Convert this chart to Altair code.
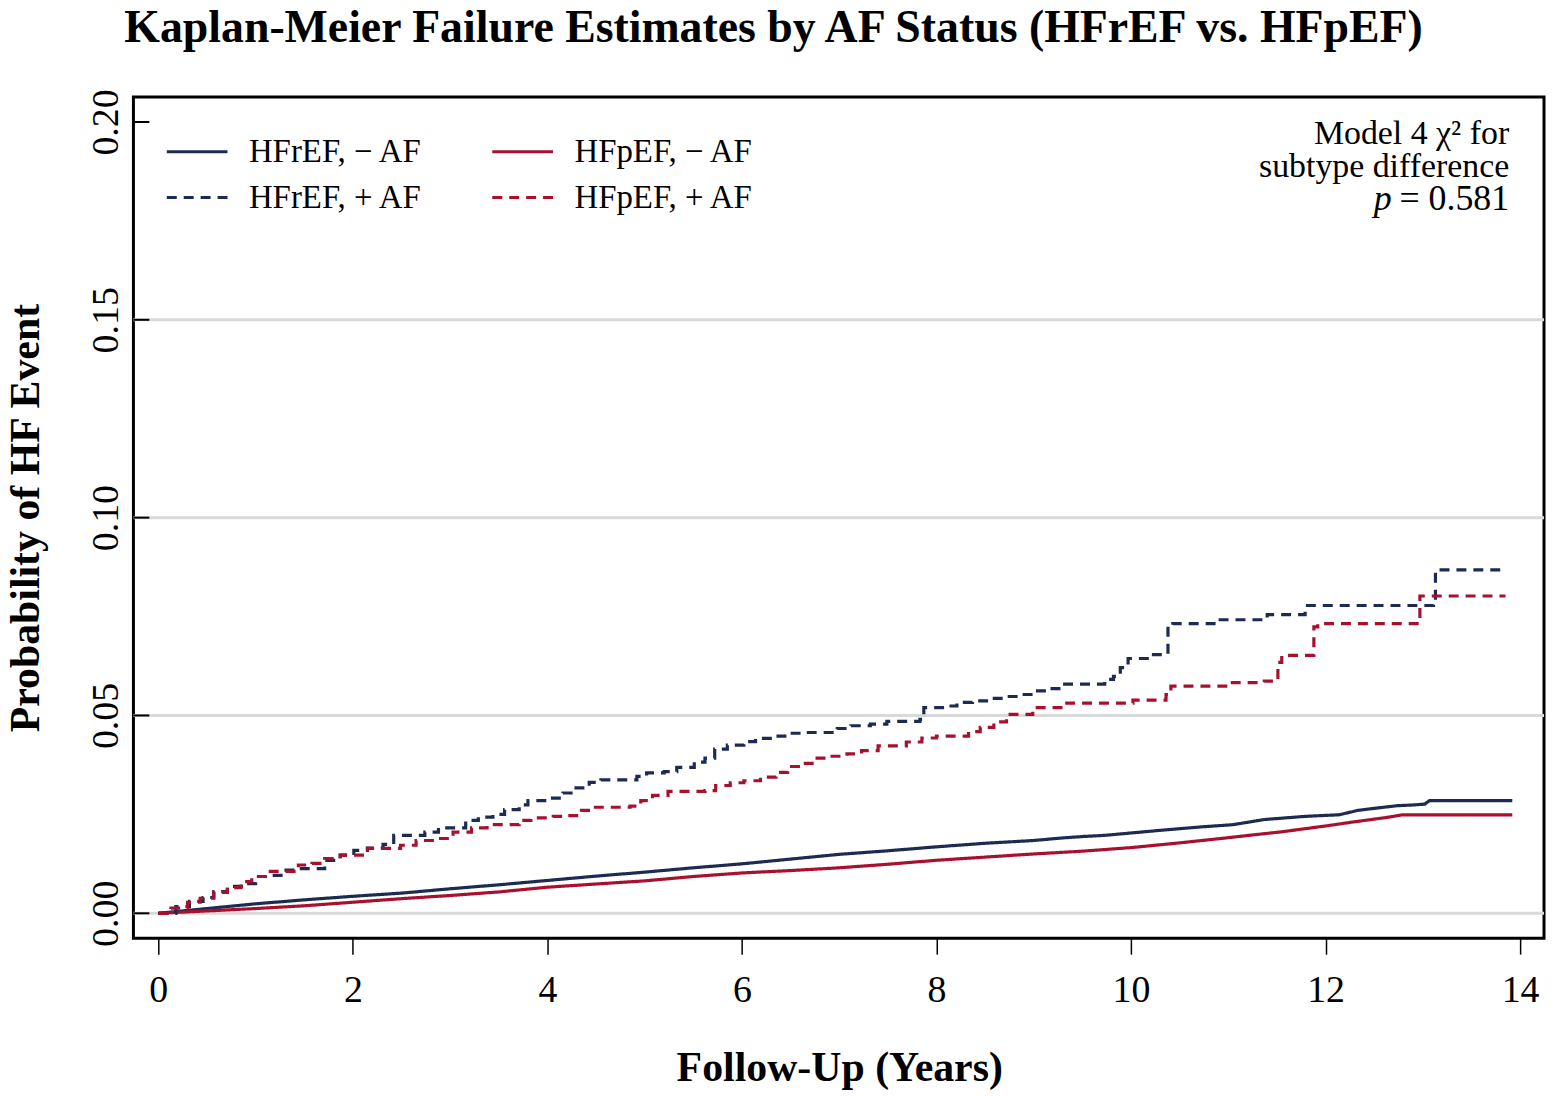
import altair as alt
import pandas as pd

FONT = "Liberation Serif"

# ---------------- data ----------------
series_order = ["HFrEF, − AF", "HFrEF, + AF", "HFpEF, − AF", "HFpEF, + AF"]
series_colors = ["#1d2b53", "#1d2b53", "#a8102e", "#a8102e"]
series_dashes = [[1, 0], [10, 7], [1, 0], [10, 7]]
dashed_series = ["HFrEF, + AF", "HFpEF, + AF"]   # drawn as step functions

hfref_noaf_t = [0, 0.5, 1.0, 1.5, 2.0, 2.5, 3.0, 3.5, 4.0, 4.5, 5.0, 5.5, 6.0, 6.5, 7.0,
                7.5, 8.0, 8.5, 9.0, 9.27, 9.5, 9.73, 10.0, 10.36, 10.7, 11.05, 11.37,
                11.79, 12.14, 12.33, 12.56, 12.74, 12.92, 13.02, 13.07, 13.92]
hfref_noaf_p = [0, 0.0012, 0.0024, 0.0034, 0.0043, 0.0051, 0.0062, 0.0072, 0.0083, 0.0094,
                0.0104, 0.0115, 0.0125, 0.0137, 0.0149, 0.0158, 0.0168, 0.0177, 0.0184,
                0.0190, 0.0194, 0.0197, 0.0203, 0.0211, 0.0218, 0.0224, 0.0237, 0.0245,
                0.0249, 0.0260, 0.0267, 0.0272, 0.0274, 0.0276, 0.0285, 0.0285]

hfpef_noaf_t = [0, 0.5, 1.0, 1.5, 2.0, 2.5, 3.0, 3.5, 4.0, 4.5, 5.0, 5.5, 6.0, 6.5, 7.0,
                7.5, 8.0, 8.5, 9.0, 9.5, 10.0, 10.5, 10.96, 11.25, 11.55, 12.01, 12.29,
                12.65, 12.79, 13.92]
hfpef_noaf_p = [0, 0.0006, 0.0012, 0.0019, 0.0028, 0.0037, 0.0045, 0.0054, 0.0066, 0.0074,
                0.0082, 0.0093, 0.0102, 0.0108, 0.0115, 0.0124, 0.0134, 0.0142, 0.0150,
                0.0157, 0.0166, 0.0178, 0.0190, 0.0198, 0.0206, 0.0221, 0.0231, 0.0243,
                0.0249, 0.0249]

hfref_af_t = [0, 0.18, 0.32, 0.46, 0.57, 0.71, 0.87, 1.00, 1.14, 1.28, 1.44, 1.71, 1.87,
              2.01, 2.15, 2.31, 2.42, 2.74, 2.88, 3.16, 3.29, 3.44, 3.56, 3.71, 3.80, 4.00,
              4.16, 4.26, 4.43, 4.55, 4.92, 5.02, 5.20, 5.33, 5.51, 5.62, 5.72, 5.85, 6.02,
              6.14, 6.35, 6.47, 6.62, 6.98, 7.12, 7.32, 7.49, 7.83, 7.87, 8.08, 8.21, 8.37,
              8.54, 8.70, 8.86, 9.02, 9.17, 9.29, 9.73, 9.82, 9.89, 9.97, 10.20, 10.38,
              10.43, 10.87, 11.40, 11.79, 13.11, 13.13, 13.84]
hfref_af_p = [0, 0.0017, 0.0030, 0.0040, 0.0055, 0.0068, 0.0075, 0.0093, 0.0096, 0.0109,
              0.0113, 0.0134, 0.0147, 0.0159, 0.0165, 0.0174, 0.0197, 0.0205, 0.0216,
              0.0235, 0.0243, 0.0250, 0.0262, 0.0274, 0.0285, 0.0291, 0.0304, 0.0317,
              0.0331, 0.0337, 0.0346, 0.0355, 0.0358, 0.0369, 0.0382, 0.0392, 0.0415,
              0.0425, 0.0434, 0.0442, 0.0448, 0.0455, 0.0457, 0.0467, 0.0474, 0.0478,
              0.0485, 0.0490, 0.0520, 0.0524, 0.0533, 0.0537, 0.0543, 0.0548, 0.0553,
              0.0562, 0.0568, 0.0579, 0.0591, 0.0599, 0.0621, 0.0644, 0.0654, 0.0720,
              0.0732, 0.0742, 0.0755, 0.0778, 0.0788, 0.0868, 0.0868]

hfpef_af_t = [0, 0.13, 0.30, 0.43, 0.57, 0.71, 0.85, 0.96, 1.10, 1.44, 1.58, 1.71, 1.87,
              2.15, 2.49, 2.65, 2.84, 3.03, 3.22, 3.38, 3.71, 3.83, 4.06, 4.20, 4.35, 4.47,
              4.85, 4.96, 5.08, 5.24, 5.62, 5.73, 5.88, 6.02, 6.19, 6.35, 6.47, 6.62, 6.74,
              6.87, 7.08, 7.23, 7.40, 7.69, 7.85, 8.00, 8.33, 8.45, 8.59, 8.72, 8.99, 9.34,
              10.02, 10.36, 10.41, 11.00, 11.37, 11.51, 11.55, 11.88, 11.92, 12.97, 13.85]
hfpef_af_p = [0, 0.0013, 0.0028, 0.0038, 0.0053, 0.0065, 0.0080, 0.0093, 0.0106, 0.0122,
              0.0126, 0.0138, 0.0147, 0.0164, 0.0172, 0.0184, 0.0189, 0.0205, 0.0216,
              0.0224, 0.0235, 0.0241, 0.0245, 0.0247, 0.0260, 0.0268, 0.0271, 0.0285,
              0.0298, 0.0308, 0.0310, 0.0323, 0.0330, 0.0335, 0.0344, 0.0356, 0.0371,
              0.0379, 0.0392, 0.0397, 0.0403, 0.0411, 0.0423, 0.0433, 0.0443, 0.0448,
              0.0459, 0.0470, 0.0484, 0.0503, 0.0520, 0.0531, 0.0539, 0.0553, 0.0574,
              0.0583, 0.0587, 0.0634, 0.0652, 0.0724, 0.0732, 0.0802, 0.0802]

x_ticks = [0, 2, 4, 6, 8, 10, 12, 14]
y_ticks = [0.00, 0.05, 0.10, 0.15, 0.20]
y_grid = [0.00, 0.05, 0.10, 0.15]

title_text = "Kaplan-Meier Failure Estimates by AF Status (HFrEF vs. HFpEF)"
x_title = "Follow-Up (Years)"
y_title = "Probability of HF Event"
annot_lines = ["Model 4 χ² for", "subtype difference", "= 0.581"]
annot_p = "p"

# ---------------- table ----------------
# dashed (AF) curves are Kaplan-Meier step functions: each change point gives a
# horizontal run at the previous level followed by a vertical jump.
rows = []
for name, ts, ps in [("HFrEF, − AF", hfref_noaf_t, hfref_noaf_p),
                     ("HFpEF, − AF", hfpef_noaf_t, hfpef_noaf_p),
                     ("HFrEF, + AF", hfref_af_t, hfref_af_p),
                     ("HFpEF, + AF", hfpef_af_t, hfpef_af_p)]:
    i = 0
    prev = None
    for t, p in zip(ts, ps):
        if name in dashed_series and prev is not None:
            rows.append({"series": name, "t": t, "p": prev, "i": i})
            i += 1
        rows.append({"series": name, "t": t, "p": p, "i": i})
        i += 1
        prev = p
df = pd.DataFrame(rows)

W, H = 1417, 845
xscale = alt.Scale(domain=[-0.256, 14.246], nice=False, zero=False)
yscale = alt.Scale(domain=[-0.0063, 0.2063], nice=False, zero=False)

# legend symbol: a horizontal stroke twice as long as the symbol box
legend = alt.Legend(
    orient="none", legendX=47, legendY=38, columns=2, title=None,
    symbolType="M-2,0H2", symbolSize=930, symbolStrokeWidth=3,
    labelFont=FONT, labelFontSize=33, labelColor="black", labelOffset=35,
    labelLimit=0, columnPadding=63, rowPadding=12, padding=0,
)

x_axis = alt.Axis(
    values=x_ticks, format="d", domain=False, grid=False,
    ticks=True, tickSize=16, tickWidth=1.5, tickColor="black",
    labelFont=FONT, labelFontSize=38, labelColor="black", labelPadding=48,
    labelBaseline="alphabetic", labelFlush=False,
    title=x_title, titleFont=FONT, titleFontSize=42, titleFontWeight="bold",
    titleColor="black", titleX=709, titleY=143, titleBaseline="alphabetic",
    titleAlign="center")
y_axis = alt.Axis(
    values=y_ticks, format=".2f", domain=False, grid=False,
    ticks=False, tickSize=0,
    labelFont=FONT, labelFontSize=38, labelColor="black", labelPadding=16,
    labelAngle=270, labelAlign="center", labelBaseline="alphabetic",
    labelFlush=False,
    title=y_title, titleFont=FONT, titleFontSize=42, titleFontWeight="bold",
    titleColor="black", titleX=-95, titleY=422.5, titleAngle=270,
    titleBaseline="alphabetic", titleAlign="center")

grid = alt.Chart(pd.DataFrame({"v": y_grid})).mark_rule(
    color="#d9d9d9", strokeWidth=3
).encode(y=alt.Y("v:Q", scale=yscale, axis=y_axis))

yt = alt.Chart(pd.DataFrame({"v": y_ticks})).mark_rule(
    color="black", strokeWidth=2
).encode(y=alt.Y("v:Q", scale=yscale, axis=y_axis), x=alt.value(0), x2=alt.value(16))

lines = alt.Chart(df).mark_line(interpolate="linear", strokeWidth=3.2, clip=True).encode(
    x=alt.X("t:Q", scale=xscale, axis=x_axis),
    y=alt.Y("p:Q", scale=yscale, axis=y_axis),
    color=alt.Color("series:N", scale=alt.Scale(domain=series_order, range=series_colors),
                    legend=legend),
    strokeDash=alt.StrokeDash("series:N", scale=alt.Scale(domain=series_order, range=series_dashes),
                              legend=legend),
    order=alt.Order("i:Q"),
)

title = alt.Chart(pd.DataFrame({"s": [title_text]})).mark_text(
    font=FONT, fontSize=46, fontWeight="bold", align="center", baseline="alphabetic", color="black"
).encode(x=alt.value(643), y=alt.value(-55), text="s:N")

annot_y = [47, 80, 113]
annot_size = [34, 34, 36]
annot_layers = []
for s, yy, fs in zip(annot_lines, annot_y, annot_size):
    annot_layers.append(
        alt.Chart(pd.DataFrame({"s": [s]})).mark_text(
            font=FONT, fontSize=fs, align="right", baseline="alphabetic", color="black"
        ).encode(x=alt.value(1382), y=alt.value(yy), text="s:N")
    )

annot_pp = alt.Chart(pd.DataFrame({"s": [annot_p]})).mark_text(
    font=FONT, fontSize=36, fontStyle="italic", align="right", baseline="alphabetic", color="black"
).encode(x=alt.value(1264), y=alt.value(annot_y[2]), text="s:N")

chart = alt.layer(grid, yt, lines, title, *annot_layers, annot_pp).properties(
    width=W, height=H,
    autosize=alt.AutoSizeParams(type="none"),
    padding={"left": 126, "top": 87, "right": 2, "bottom": 150},
).configure_view(stroke="black", strokeWidth=3)

chart.save("out.html", embed_options={"renderer": "svg", "actions": False})
